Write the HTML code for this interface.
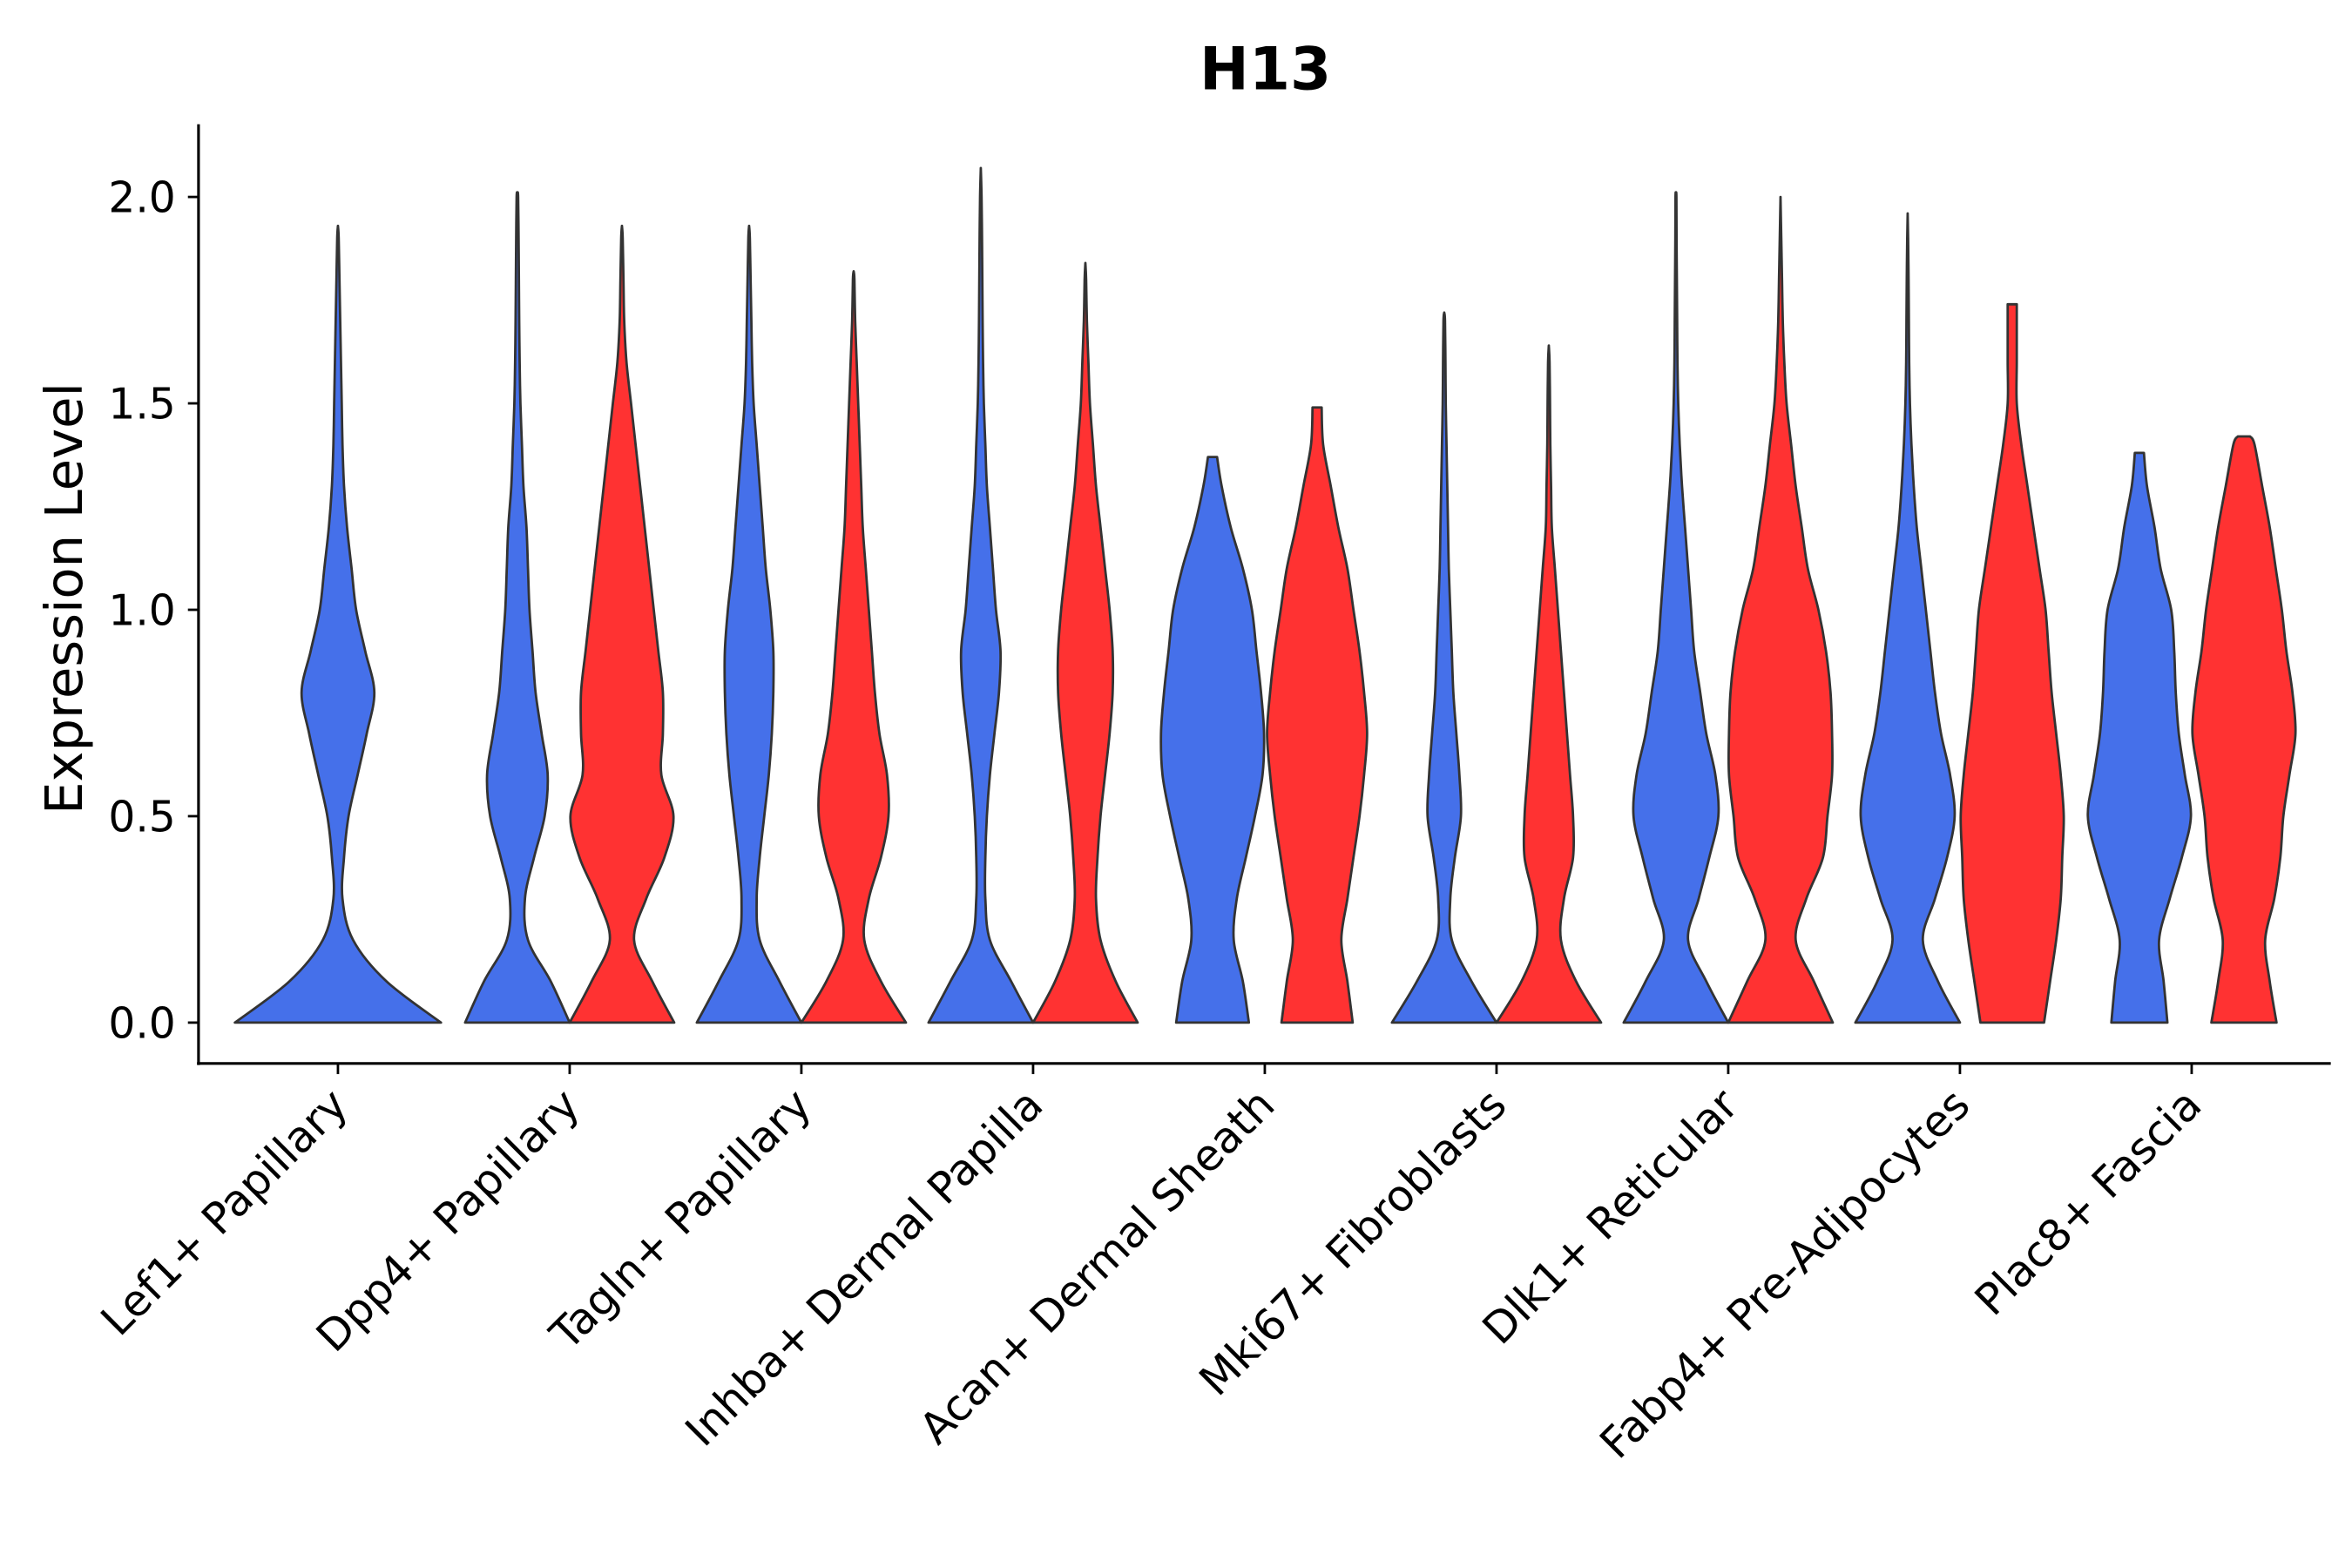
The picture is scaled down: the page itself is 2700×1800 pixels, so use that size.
<!DOCTYPE html>
<html><head><meta charset="utf-8"><style>
html,body{margin:0;padding:0;background:#fff;}
svg{display:block;}
text{font-family:"DejaVu Sans","Liberation Sans",sans-serif;fill:#000;}
</style></head><body>
<svg id="chart" width="2700" height="1800" viewBox="0 0 1552 1035" preserveAspectRatio="none" xmlns="http://www.w3.org/2000/svg">
<text x="835" y="59" text-anchor="middle" font-size="39" font-weight="bold">H13</text>
<text transform="translate(54,395) rotate(-90)" text-anchor="middle" font-size="34">Expression Level</text>
<g id="violins"></g>
<g id="axes"></g>
</svg>
<script>
const categories=["Lef1+ Papillary","Dpp4+ Papillary","Tagln+ Papillary","Inhba+ Dermal Papilla","Acan+ Dermal Sheath","Mki67+ Fibroblasts","Dlk1+ Reticular","Fabp4+ Pre-Adipocytes","Plac8+ Fascia"];
const yTicks=[0,0.5,1.0,1.5,2.0];
const yTickLabels=["0.0","0.5","1.0","1.5","2.0"];
// violin groups: category index, group (0 blue,1 red, -1 single), max value, top half-width, density half-widths every 0.1
const violinCat=[0,1,1,2,2,3,3,4,4,5,5,6,6,7,7,8,8];
const violinGroup=[-1,0,1,0,1,0,1,0,1,0,1,0,1,0,1,0,1];
const violinMax=[1.93,2.01,1.93,1.93,1.82,2.07,1.84,1.37,1.49,1.72,1.64,2.01,2.0,1.96,1.74,1.38,1.42];
const violinTop=[0,0,0,0,0,0,0,3,3,0,0,0,0,0,3,3,4];
const densities=[
[68,32,10,3,4,7,13,19,24,18,12,9,6,4,3,2.5,2,1.5,1,0.5],
[34.5,22,7,5,11,18,20,16,12,10,8,7,6,4,3,2,1.5,1.2,1,0.8,0.5],
[34.5,20,8,16,28,34,26,27,27,24,21,18,15,12,9,6,3,1.5,1,0.5],
[34.5,20,7,5,7,10,13,15,16,16,14,11,9,7,5,3,2,1.5,1,0.5],
[34.5,18,7,10,18,23,22,17,14,12,10,8,6,5,4,3,2,1,0.5],
[34.5,20,6,3,3,4,6,9,12,13,10,8,6,4,3,2,1.5,1.2,1,0.8,0.5],
[34.5,20,10,7,8,10,13,16,18,18,16,13,10,7,5,3,2,1,0.5],
[24,20,14,16,22,28,33,34,32,29,26,20,12,6],
[23.5,20,16,20,24,28,31,33,31,28,24,20,14,9,4],
[34.5,18,5,4,7,11,10,8,6,5,4,3,2.5,2,1.5,1,0.8,0.5],
[34.5,18,8,10,16,16,14,12,10,8,6,4,2,1.5,1,0.8,0.5],
[34.5,20,8,15,22,28,26,20,16,12,10,8,6,4,2.5,1.5,1,0.8,0.6,0.4,0.3],
[34.5,22,10,17,28,31,34,34,33,30,25,18,14,10,7,4,2.5,1.5,1,0.5,0.3],
[34.5,20,10,18,26,31,28,22,18,15,12,9,6,4,2.5,1.5,1,0.8,0.6,0.3],
[21,25,29,32,33,34,32,29,26,24,22,18,14,10,6,3,3,3],
[18.5,16,13,20,28,34,30,26,24,23,21,14,10,5],
[21.5,17,14,20,24,26,30,34,32,28,25,21,17,12,7]
];
const NS="http://www.w3.org/2000/svg";
const X0=223,XSTEP=152.9,Y0=675,YPX=272.5;
function xScale(i){return X0+i*XSTEP;}
function yScale(v){return Y0-v*YPX;}
function smooth(pts){
  let d="M"+pts[0][0]+","+pts[0][1];
  for(let i=0;i<pts.length-1;i++){
    const p0=pts[Math.max(0,i-1)],p1=pts[i],p2=pts[i+1],p3=pts[Math.min(pts.length-1,i+2)];
    const c1=[p1[0]+(p2[0]-p0[0])/6,p1[1]+(p2[1]-p0[1])/6];
    const c2=[p2[0]-(p3[0]-p1[0])/6,p2[1]-(p3[1]-p1[1])/6];
    d+=" C"+c1[0].toFixed(2)+","+c1[1].toFixed(2)+" "+c2[0].toFixed(2)+","+c2[1].toFixed(2)+" "+p2[0].toFixed(2)+","+p2[1].toFixed(2);
  }
  return d;
}
const vg=document.getElementById("violins");
densities.forEach((dens,k)=>{
  const g=violinGroup[k];
  const cx=xScale(violinCat[k])+(g<0?0:(g===0?-34.5:34.5));
  const pts=[];
  dens.forEach((w,i)=>{const v=i*0.1;if(v<violinMax[k])pts.push([v,w]);});
  pts.push([violinMax[k],violinTop[k]]);
  const right=pts.map(p=>[cx+p[1],yScale(p[0])]);
  const left=pts.slice().reverse().map(p=>[cx-p[1],yScale(p[0])]);
  let d=smooth(right);
  d+=" L"+left[0][0]+","+left[0][1];
  d+=smooth(left).replace(/^M[^ C]+/,"");
  d+=" Z";
  const p=document.createElementNS(NS,"path");
  p.setAttribute("d",d);
  p.setAttribute("fill",g===1?"#FF3232":"#4570EA");
  p.setAttribute("stroke","#333");
  p.setAttribute("stroke-width","1.6");
  p.setAttribute("stroke-linejoin","round");
  
  
  vg.appendChild(p);
});
const ag=document.getElementById("axes");
function line(x1,y1,x2,y2,w){const l=document.createElementNS(NS,"line");l.setAttribute("x1",x1);l.setAttribute("y1",y1);l.setAttribute("x2",x2);l.setAttribute("y2",y2);l.setAttribute("stroke","#000");l.setAttribute("stroke-width",w);ag.appendChild(l);return l;}
const ya=line(131,82,131,703,1.8);


const xa=line(130,702,1538,702,1.8);


yTicks.forEach((v,i)=>{
  const t=line(124,yScale(v),131,yScale(v),1.6);
  
  
  const tx=document.createElementNS(NS,"text");
  tx.setAttribute("x",116);tx.setAttribute("y",yScale(v)+10);
  tx.setAttribute("text-anchor","end");tx.setAttribute("font-size","28");
  tx.textContent=yTickLabels[i];
  
  
  ag.appendChild(tx);
});
categories.forEach((c,i)=>{
  const x=xScale(i);
  const t=line(x,702,x,709,1.6);
  
  
  const tx=document.createElementNS(NS,"text");
  tx.setAttribute("transform","translate("+(x+8)+",731) rotate(-45)");
  tx.setAttribute("text-anchor","end");tx.setAttribute("font-size","28.5");
  tx.textContent=c;
  
  
  ag.appendChild(tx);
});
</script>
</body></html>
